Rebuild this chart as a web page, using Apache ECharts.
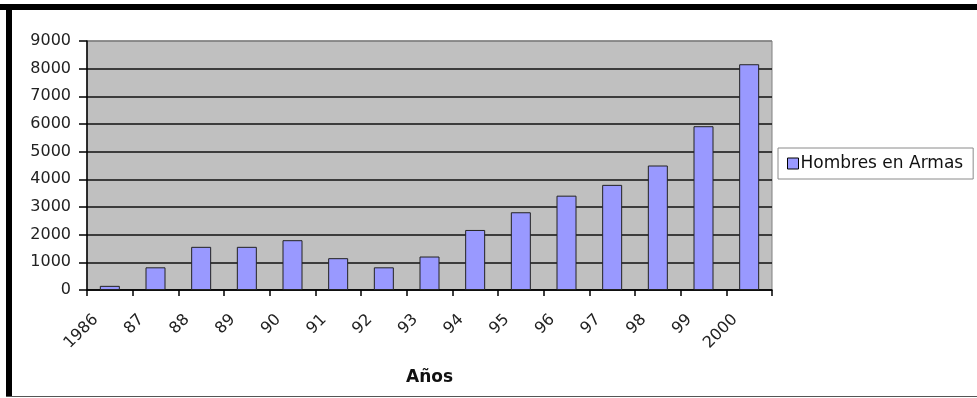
<!DOCTYPE html>
<html>
<head>
<meta charset="utf-8">
<script src="https://cdn.jsdelivr.net/npm/echarts@6/dist/echarts.min.js"></script>
<style>
html,body{margin:0;padding:0;background:#fff;}
#chart{width:977px;height:398px;}
</style>
</head>
<body>
<div id="chart"></div>
<script>
// Years on the category axis
const years = ['1986', '87', '88', '89', '90', '91', '92', '93', '94', '95', '96', '97', '98', '99', '2000'];
// Hombres en Armas per year
const hombresEnArmas = [150, 820, 1560, 1560, 1800, 1150, 820, 1210, 2170, 2810, 3410, 3800, 4500, 5920, 8160];
// Value axis ticks
const yMin = 0, yMax = 9000, yStep = 1000;

const chart = echarts.init(document.getElementById('chart'), null, {renderer: 'canvas'});
const font = '"DejaVu Sans", Verdana, sans-serif';

// Dark gridlines, with the top one matching the grey plot frame
const gridColors = [];
for (let v = yMin; v <= yMax; v += yStep) gridColors.push(v === yMax ? '#808080' : '#111');

chart.setOption({
  animation: false,
  backgroundColor: '#ffffff',
  graphic: [
    {type: 'rect', shape: {x: 0, y: 4, width: 977, height: 6}, style: {fill: '#000'}, silent: true},
    {type: 'rect', shape: {x: 6, y: 4, width: 6, height: 393}, style: {fill: '#000'}, silent: true},
    {type: 'rect', shape: {x: 6, y: 396, width: 971, height: 1}, style: {fill: '#555'}, silent: true}
  ],
  grid: {
    left: 87, top: 41, right: 205, bottom: 108,
    show: true, backgroundColor: '#c0c0c0', borderColor: '#808080', borderWidth: 1,
    containLabel: false
  },
  legend: {
    left: 778, top: 148,
    padding: [7, 10, 7, 9],
    backgroundColor: '#ffffff',
    borderColor: '#8a8a8a', borderWidth: 1,
    itemWidth: 11, itemHeight: 11,
    icon: 'rect',
    itemStyle: {color: '#9999ff', borderColor: '#000', borderWidth: 1},
    textStyle: {fontFamily: font, fontSize: 17, color: '#111', padding: [0, 0, 0, -3]},
    data: ['Hombres en Armas']
  },
  xAxis: {
    type: 'category',
    data: years,
    boundaryGap: true,
    name: 'Años',
    nameLocation: 'middle',
    nameGap: 79,
    nameTextStyle: {fontFamily: font, fontSize: 17, fontWeight: 'bold', color: '#111'},
    axisLine: {lineStyle: {color: '#000', width: 1.5}},
    axisTick: {show: true, interval: 0, length: 6, lineStyle: {color: '#000', width: 1.5}},
    axisLabel: {
      interval: 0, rotate: 45, fontFamily: font, fontSize: 16, color: '#222',
      margin: 13, padding: [0, 20, 0, 0]
    }
  },
  yAxis: {
    type: 'value',
    min: yMin, max: yMax, interval: yStep,
    axisLine: {show: true, lineStyle: {color: '#000', width: 1.5}},
    axisTick: {show: true, length: 8, lineStyle: {color: '#000', width: 1.5}},
    axisLabel: {fontFamily: font, fontSize: 16, color: '#222', margin: 16, formatter: v => String(v)},
    splitLine: {show: true, lineStyle: {color: gridColors, width: 1.5}}
  },
  series: [{
    name: 'Hombres en Armas',
    type: 'bar',
    data: hombresEnArmas,
    barWidth: 20,
    itemStyle: {color: '#9999ff', borderColor: '#222', borderWidth: 1}
  }]
});
</script>
</body>
</html>
